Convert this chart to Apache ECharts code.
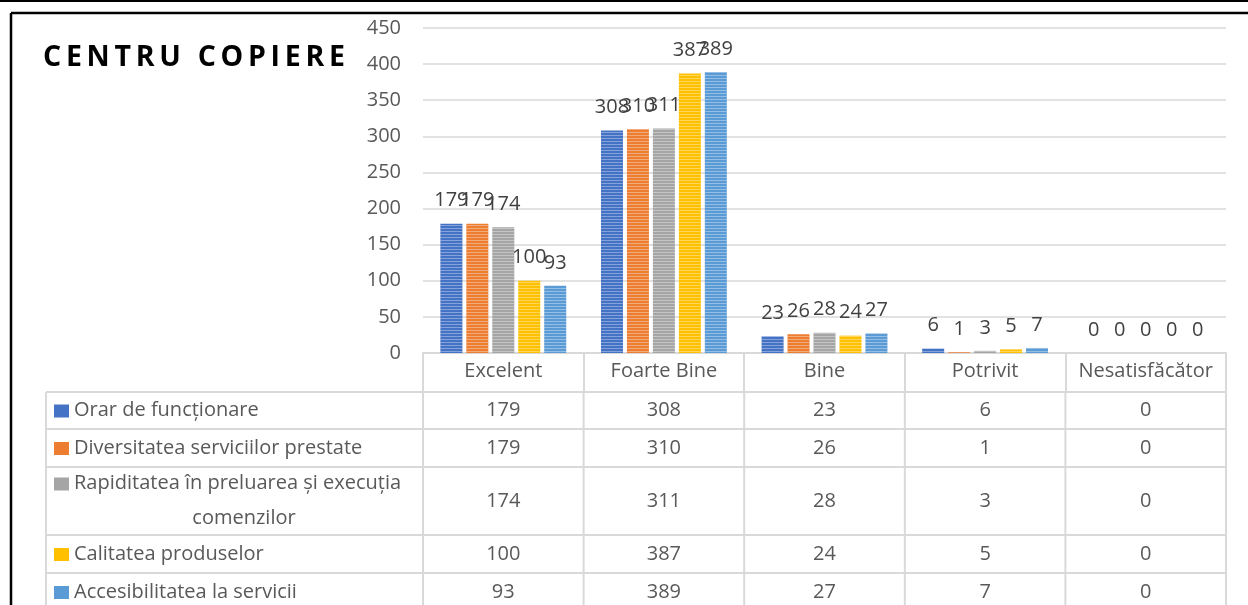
<!DOCTYPE html>
<html>
<head>
<meta charset="utf-8">
<script src="https://cdn.jsdelivr.net/npm/echarts@6.0.0/dist/echarts.min.js"></script>
<style>
html, body { margin: 0; padding: 0; background: #fff; }
#main { width: 1248px; height: 605px; }
</style>
</head>
<body>
<div id="main"></div>
<script>
var categories = ['Excelent', 'Foarte Bine', 'Bine', 'Potrivit', 'Nesatisfăcător'];
var seriesNames = ['Orar de funcționare', 'Diversitatea serviciilor prestate', 'Rapiditatea în preluarea și execuția comenzilor', 'Calitatea produselor', 'Accesibilitatea la servicii'];
// randul 3 din tabel e pe doua linii
var rowLabels = ['Orar de funcționare', 'Diversitatea serviciilor prestate', 'Rapiditatea în preluarea și execuția\ncomenzilor', 'Calitatea produselor', 'Accesibilitatea la servicii'];
var orar = [179, 308, 23, 6, 0];
var diversitate = [179, 310, 26, 1, 0];
var rapiditate = [174, 311, 28, 3, 0];
var calitate = [100, 387, 24, 5, 0];
var accesibilitate = [93, 389, 27, 7, 0];
var yMin = 0, yMax = 450, yStep = 50;

var values = [orar, diversitate, rapiditate, calitate, accesibilitate];
var colors = ['#4472C4', '#ED7D31', '#A5A5A5', '#FFC000', '#5B9BD5'];
var font = '"Open Sans", sans-serif';
var fs = 20;

var chart = echarts.init(document.getElementById('main'), null, {renderer: 'canvas'});

var series = values.map(function (v, i) {
    return {
        name: seriesNames[i],
        type: 'bar',
        data: v,
        barWidth: 22,
        barGap: '18%',
        itemStyle: {
            color: colors[i],
            decal: {
                symbol: 'rect',
                symbolSize: 1,
                dashArrayX: [1, 0],
                dashArrayY: [1, 2],
                color: 'rgba(255,255,255,0.35)'
            }
        },
        label: {
            show: true,
            position: 'top',
            distance: 13,
            fontSize: fs,
            fontFamily: font,
            color: '#404040'
        }
    };
});

var option = {
    animation: false,
    backgroundColor: '#fff',
    title: {
        text: 'C\u2009E\u2009N\u2009T\u2009R\u2009U\u2009 \u2009C\u2009O\u2009P\u2009I\u2009E\u2009R\u2009E',
        left: 38,
        top: 38,
        textStyle: {fontSize: 28.5, fontWeight: 'bold', fontFamily: font, color: '#000'}
    },
    grid: {left: 423, right: 22, top: 28, bottom: 252},
    xAxis: {
        type: 'category',
        data: categories,
        axisLine: {lineStyle: {color: '#d9d9d9', width: 2}},
        axisTick: {show: true, interval: 0, length: 39, lineStyle: {color: '#d9d9d9', width: 2}},
        axisLabel: {interval: 0, fontSize: fs, fontFamily: font, color: '#595959', margin: 8}
    },
    yAxis: {
        type: 'value',
        min: yMin,
        max: yMax,
        interval: yStep,
        axisLine: {show: false},
        axisTick: {show: false},
        axisLabel: {fontSize: fs, fontFamily: font, color: '#595959', margin: 22},
        splitLine: {lineStyle: {color: '#d9d9d9', width: 1.5}}
    },
    series: series
};

chart.setOption(option);

// tabelul de date de sub grafic
function buildTable() {
    var c0 = chart.convertToPixel({xAxisIndex: 0}, categories[0]);
    var c1 = chart.convertToPixel({xAxisIndex: 0}, categories[1]);
    var band = c1 - c0;
    var yBase = chart.convertToPixel({yAxisIndex: 0}, 0);
    var headerH = 39, rowH = [37, 38, 68, 38, 38];
    var tableLeft = 46;
    var tableRight = c0 - band / 2 + band * categories.length;
    var g = [];
    var lineStyle = {stroke: '#d9d9d9', lineWidth: 2};

    var y = yBase + headerH;
    var tops = [];
    for (var r = 0; r < rowH.length; r++) {
        tops.push(y);
        g.push({type: 'line', silent: true, shape: {x1: tableLeft, y1: y, x2: tableRight, y2: y}, style: lineStyle});
        y += rowH[r];
    }
    g.push({type: 'line', silent: true, shape: {x1: tableLeft, y1: y, x2: tableRight, y2: y}, style: lineStyle});
    var bottom = y;

    g.push({type: 'line', silent: true, shape: {x1: tableLeft, y1: tops[0], x2: tableLeft, y2: bottom}, style: lineStyle});
    for (var k = 0; k <= categories.length; k++) {
        var bx = c0 - band / 2 + band * k;
        g.push({type: 'line', silent: true, shape: {x1: bx, y1: tops[0], x2: bx, y2: bottom}, style: lineStyle});
    }

    for (var s = 0; s < values.length; s++) {
        var mid = tops[s] + rowH[s] / 2;
        var lines = rowLabels[s].split('\n');
        var lh = 35;
        var firstY = mid - (lines.length - 1) * lh / 2;
        g.push({type: 'rect', silent: true, shape: {x: 54, y: firstY - 6, width: 15, height: 13}, style: {fill: colors[s]}});
        lines.forEach(function (t, li) {
            g.push({
                type: 'text', silent: true,
                x: li === 0 ? 74 : 244, y: firstY + li * lh,
                style: {text: t, fontSize: fs, fontFamily: font, fill: '#595959', align: li === 0 ? 'left' : 'center', verticalAlign: 'middle'}
            });
        });
        for (var ci = 0; ci < categories.length; ci++) {
            g.push({
                type: 'text', silent: true,
                x: c0 + band * ci, y: mid,
                style: {text: String(values[s][ci]), fontSize: fs, fontFamily: font, fill: '#595959', align: 'center', verticalAlign: 'middle'}
            });
        }
    }

    // chenarul paginii
    g.push({type: 'line', silent: true, shape: {x1: 0, y1: 1, x2: 1248, y2: 1}, style: {stroke: '#000', lineWidth: 2}});
    g.push({type: 'line', silent: true, shape: {x1: 11, y1: 13, x2: 1248, y2: 13}, style: {stroke: '#000', lineWidth: 2.5}});
    g.push({type: 'line', silent: true, shape: {x1: 11, y1: 13, x2: 11, y2: 605}, style: {stroke: '#000', lineWidth: 2.5}});

    chart.setOption({graphic: g});
}
buildTable();
</script>
</body>
</html>
